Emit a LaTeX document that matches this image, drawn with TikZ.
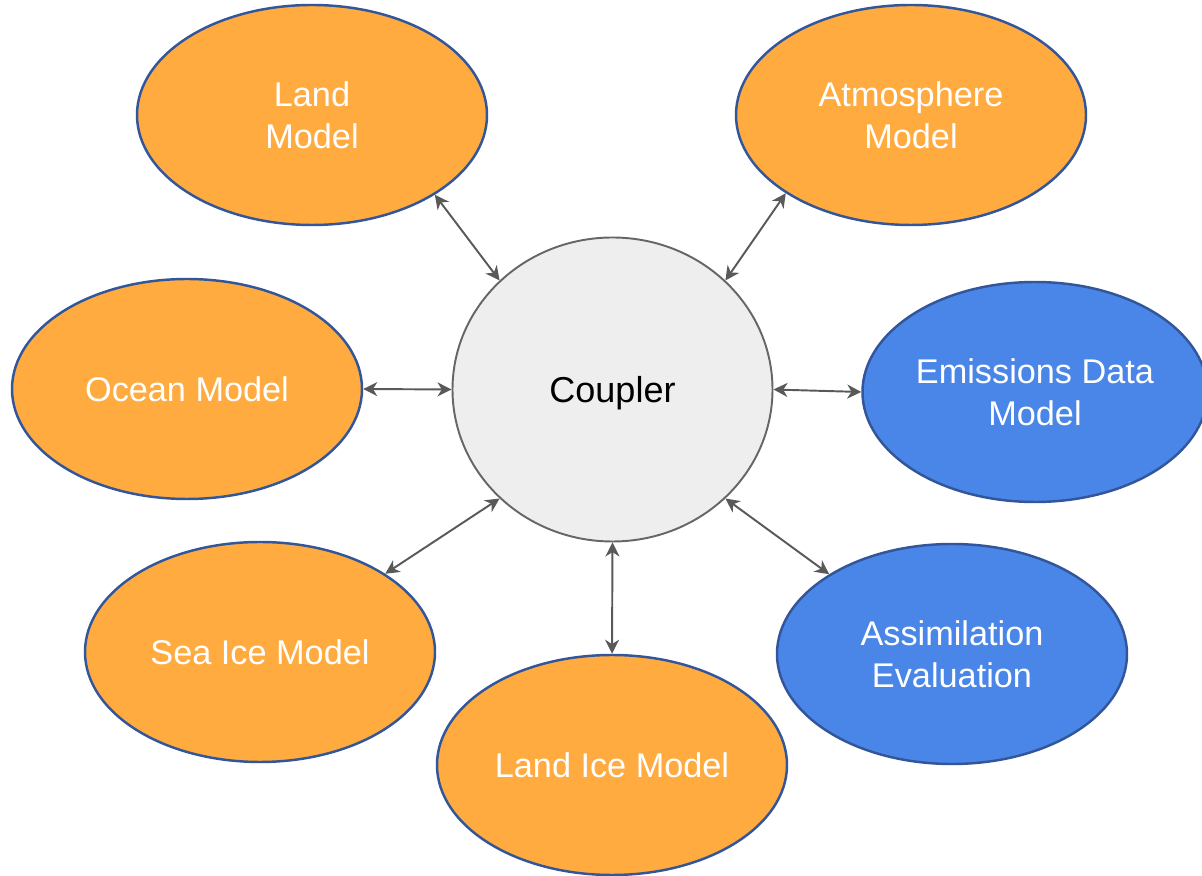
\documentclass[tikz,border=0pt]{standalone}
\usepackage{fontspec}
\setmainfont{Liberation Sans}
\usetikzlibrary{shapes.geometric,arrows.meta}

\definecolor{modelorange}{HTML}{FFAB40}
\definecolor{modelblue}{HTML}{4A86E8}
\definecolor{modelborder}{HTML}{33559A}
\definecolor{couplerfill}{HTML}{EEEEEE}
\definecolor{couplerborder}{HTML}{666666}
\definecolor{linkgray}{HTML}{595959}

\begin{document}
\begin{tikzpicture}[
    model/.style={ellipse, draw=modelborder, line width=1.4pt, inner sep=0pt,
      minimum width=7cm, minimum height=4.4cm, align=center, text=white,
      text depth=0pt, font=\fontsize{19.5}{24}\selectfont},
    orangemodel/.style={model, fill=modelorange},
    bluemodel/.style={model, fill=modelblue},
    link/.style={draw=linkgray, line width=1.1pt,
      {Stealth[length=8pt,width=8pt,inset=2.5pt]}-{Stealth[length=8pt,width=8pt,inset=2.5pt]}}
  ]
  \useasboundingbox (0,0) rectangle (24.04,17.52);

  %coupleur au centre
  \node (coupler) at (12.25,9.73) [ellipse, draw=couplerborder, line width=1.1pt,
    fill=couplerfill, minimum width=6.4cm, minimum height=6.08cm, text depth=0pt,
    font=\fontsize{20.5}{24}\selectfont] {Coupler};

  %modeles
  \node (land) at (6.24,15.22) [orangemodel] {Land\\Model};
  \node (atmosphere) at (18.22,15.22) [orangemodel] {Atmosphere\\Model};
  \node (ocean) at (3.74,9.74) [orangemodel] {Ocean Model};
  \node (emissions) at (20.7,9.68) [bluemodel, minimum width=6.9cm] {Emissions Data\\Model};
  \node (seaice) at (5.2,4.48) [orangemodel] {Sea Ice Model};
  \node (assimilation) at (19.04,4.44) [bluemodel] {Assimilation\\Evaluation};
  \node (landice) at (12.24,2.22) [orangemodel] {Land Ice Model};

  %liens
  \draw[link] (land.-33) -- (coupler.136);
  \draw[link] (atmosphere.212.6) -- (coupler.44);
  \draw[link] (ocean.0) -- (coupler.180);
  \draw[link] (emissions.180) -- (coupler.0);
  \draw[link] (seaice.32.5) -- (coupler.224);
  \draw[link] (assimilation.147.8) -- (coupler.-44);
  \draw[link] (landice.90) -- (coupler.270);
\end{tikzpicture}
\end{document}
